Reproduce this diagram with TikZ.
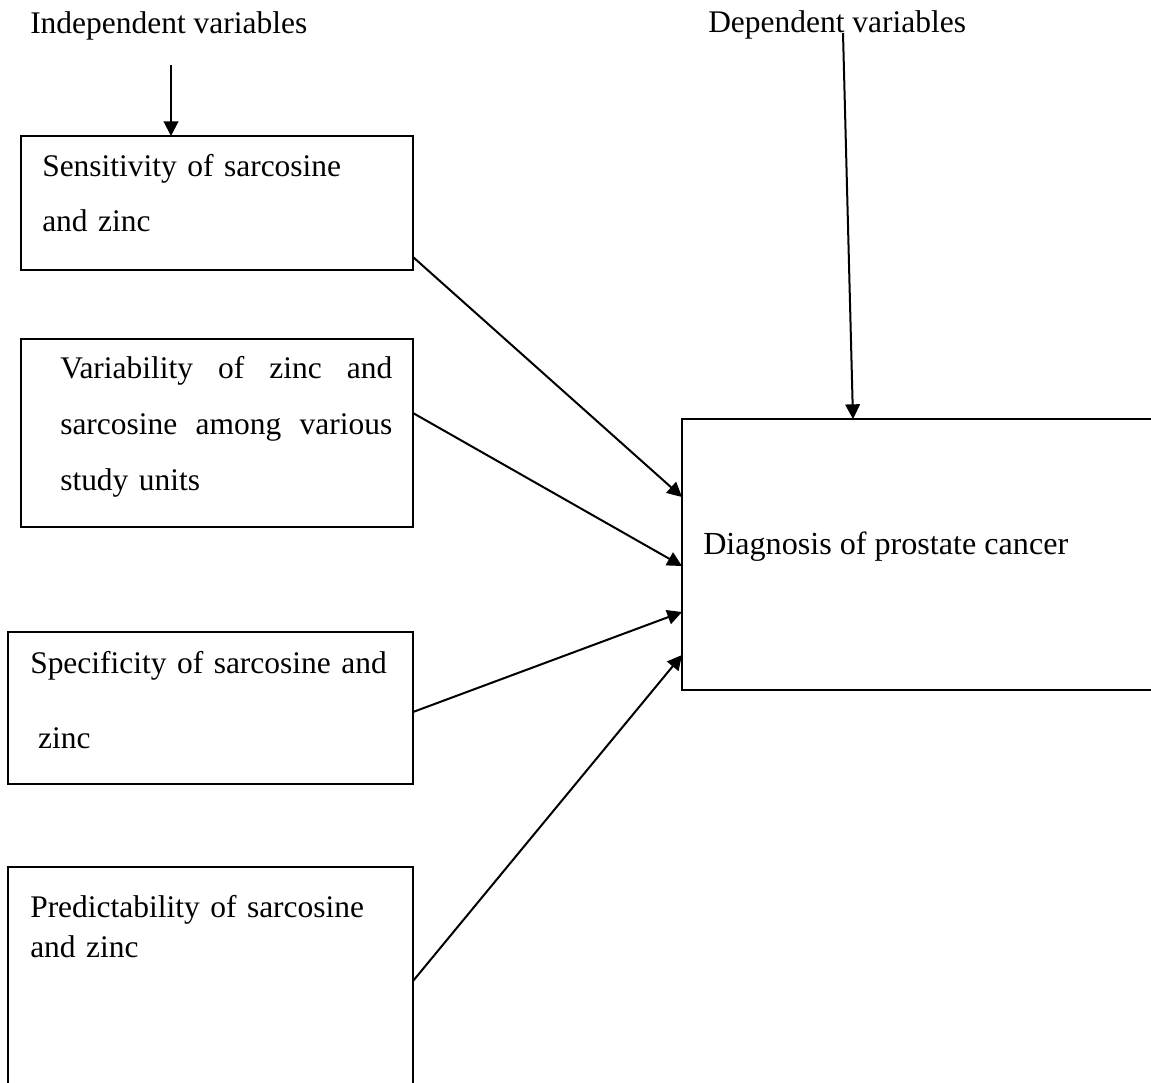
\documentclass[tikz,border=0pt]{standalone}
\usepackage{fontspec}
\setmainfont{Liberation Serif}
\usepackage{tikz}
\usetikzlibrary{arrows.meta}

\tikzset{
  varbox/.style={draw, line width=1.5pt, outer sep=0pt, inner sep=0pt, anchor=north west},
  vartext/.style={anchor=base west, inner sep=0pt, align=left},
  arr/.style={line width=1.5pt, -{Triangle[length=11pt,width=11pt]}}
}

\begin{document}
\begin{tikzpicture}[x=0.75pt,y=0.75pt,yscale=-1,xscale=1]
            \tikzstyle{every node}=[font=\fontsize{23.6}{28}\selectfont]
            \useasboundingbox (0,0) rectangle (1151,1082);

            % headings
            \node [vartext] (indtxt) at (30,33) {Independent variables};
            \node [vartext] (deptxt) at (708,32) {Dependent variables};

            % independent variable boxes
            \node [varbox, minimum width=294pt, minimum height=100.5pt] (sens) at (21,136) {};
            \node [varbox, minimum width=294pt, minimum height=141pt] (vari) at (21,339) {};
            \node [varbox, minimum width=303.75pt, minimum height=114pt] (spec) at (8,632) {};
            \node [varbox, minimum width=303.75pt, minimum height=167.25pt] (pred) at (8,867) {};

            % dependent variable box
            \node [varbox, minimum width=354pt, minimum height=203.25pt] (diag) at (682,419) {};

            % box texts
            \node [vartext, text width=260pt, font=\fontsize{23.6}{41.25}\selectfont] (senstxt) at (42,176)
              {Sensitivity of sarcosine\\and zinc};
            \node [vartext, text width=249pt, font=\fontsize{23.6}{42}\selectfont] (varitxt) at (60,378)
              {\makebox[249pt]{Variability\hfill of\hfill zinc\hfill and}\\\makebox[249pt]{sarcosine\hfill among\hfill various}\\study units};
            \node [vartext, text width=270pt, font=\fontsize{23.6}{56.25}\selectfont] (spectxt) at (30,673)
              {Specificity of sarcosine and\\\hspace*{0.25em}zinc};
            \node [vartext, text width=270pt, font=\fontsize{23.6}{30}\selectfont] (predtxt) at (30,917)
              {Predictability of sarcosine\\and zinc};
            \node [vartext, font=\fontsize{24.1}{28}\selectfont] (diagtxt) at (703,554) {Diagnosis of prostate cancer};

            % arrows
            \coordinate (indarr) at (171,65);
            \coordinate (deparr) at (843,33);
            \draw [arr] (indarr) -- (sens.north -| indarr);
            \draw [arr] (deparr) -- (diag.north -| 853,0);
            \draw [arr] (sens.east |- 0,257) -- (diag.west |- 0,497);
            \draw [arr] (vari.east |- 0,413) -- (diag.west |- 0,566);
            \draw [arr] (spec.east |- 0,712) -- (diag.west |- 0,612);
            \draw [arr] (pred.east |- 0,981) -- (diag.west |- 0,655);
\end{tikzpicture}
\end{document}
